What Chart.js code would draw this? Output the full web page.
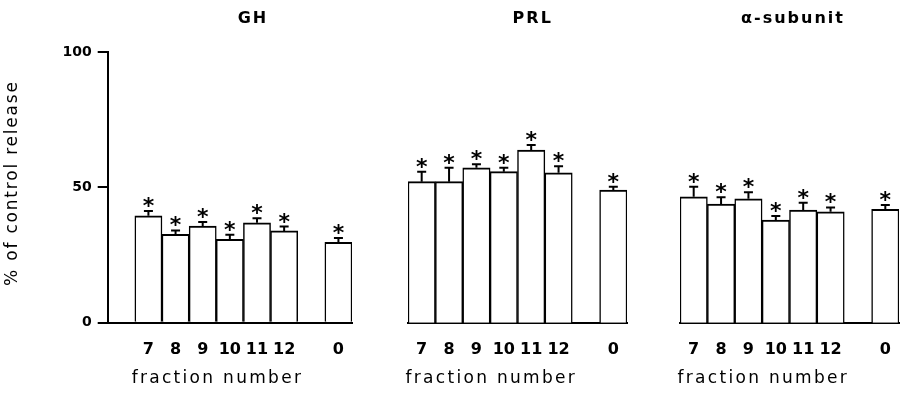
<!DOCTYPE html>
<html><head><meta charset="utf-8">
<script src="https://cdn.jsdelivr.net/npm/chart.js@4/dist/chart.umd.min.js"></script>
<style>
html,body{margin:0;padding:0;background:#fff;width:903px;height:395px;overflow:hidden;}
.p{position:absolute;top:0;height:395px;}
</style></head><body>
<div class="p" style="left:0;width:360px"><canvas id="c1"></canvas></div>
<div class="p" style="left:395px;width:240px"><canvas id="c2"></canvas></div>
<div class="p" style="left:665px;width:238px"><canvas id="c3"></canvas></div>
<script>
// ---- data ----
const ghCategories = ['', '7', '8', '9', '10', '11', '12', '', '0'];
const panelCategories = ['7', '8', '9', '10', '11', '12', '', '0'];
const ghValues      = [null, 39.5, 32.6, 35.7, 30.8, 36.9, 33.9, null, 29.7];
const ghErrorTop    = [null, 41.3, 34.1, 37.2, 32.5, 38.6, 35.5, null, 31.3];
const prlValues     = [52.1, 52.1, 57.2, 55.8, 63.8, 55.4, null, 49.0];
const prlErrorTop   = [55.8, 57.2, 58.5, 57.2, 65.6, 57.8, null, 50.2];
const alphaValues   = [46.5, 43.8, 45.8, 37.9, 41.6, 41.0, null, 41.9];
const alphaErrorTop = [50.2, 46.3, 48.2, 39.4, 44.3, 42.6, null, 43.5];
const yTicks = [0, 50, 100];
const panelTitles = ['GH', 'PRL', 'α-subunit'];
const xTitle = 'fraction number';
const yTitle = '% of control release';

const FAM = '"DejaVu Sans", Verdana, sans-serif';
Chart.defaults.font.family = FAM;
Chart.defaults.color = '#000';

const errPlugin = {
  id: 'errs',
  afterDatasetsDraw(chart, args, o) {
    const ctx = chart.ctx, y = chart.scales.y;
    const meta = chart.getDatasetMeta(0);
    const vals = chart.data.datasets[0].data;
    ctx.save();
    ctx.strokeStyle = '#000'; ctx.lineWidth = 2; ctx.fillStyle = '#000';
    ctx.font = 'bold 22px ' + FAM;
    ctx.textAlign = 'center'; ctx.textBaseline = 'alphabetic';
    const m = ctx.measureText('*');
    const glyphMid = (m.actualBoundingBoxDescent - m.actualBoundingBoxAscent) / 2;
    meta.data.forEach((bar, i) => {
      const v = vals[i], t = o.tops[i];
      if (v == null || t == null) return;
      const x = bar.x, yb = y.getPixelForValue(v), yt = y.getPixelForValue(t);
      ctx.beginPath();
      ctx.moveTo(x, yb); ctx.lineTo(x, yt);
      ctx.moveTo(x - 4.5, yt); ctx.lineTo(x + 4.5, yt);
      ctx.stroke();
      ctx.fillText('*', x, yt - 9 - glyphMid);
    });
    ctx.restore();
  }
};

const textPlugin = {
  id: 'texts',
  afterDraw(chart, args, o) {
    const ctx = chart.ctx, area = chart.chartArea, x = chart.scales.x;
    ctx.save();
    ctx.fillStyle = '#000';
    ctx.textAlign = 'center'; ctx.textBaseline = 'middle';
    ctx.font = 'bold 16px ' + FAM; ctx.letterSpacing = '2px';
    ctx.fillText(o.title, area.left + o.titleOffset + 1, 18.5);
    ctx.font = '17px ' + FAM; ctx.letterSpacing = '2.3px';
    const mid = (x.getPixelForValue(o.groupStart) + x.getPixelForValue(o.groupEnd)) / 2;
    ctx.fillText(xTitle, mid + 1.15, 379);
    if (o.yTitle) {
      ctx.font = '17px ' + FAM; ctx.letterSpacing = '1.8px';
      ctx.translate(12.5, 184);
      ctx.rotate(-Math.PI / 2);
      ctx.fillText(o.yTitle, 0.9, 0);
    }
    ctx.restore();
  }
};

function makeChart(id, cats, vals, tops, title, titleOffset, showY, pad) {
  const i7 = cats.indexOf('7'), i12 = cats.indexOf('12');
  const yScale = {
    display: showY, min: 0, max: 100,
    afterBuildTicks: s => { s.ticks = yTicks.map(v => ({ value: v })); },
    border: { display: true, color: '#000', width: 2 },
    grid: { display: true, drawOnChartArea: false, drawTicks: true, tickLength: 10, color: '#000', lineWidth: 2 },
    ticks: { color: '#000', font: { size: 14, weight: 'bold' }, padding: 6 }
  };
  if (showY) yScale.afterFit = s => { s.width = 107.7; };
  return new Chart(document.getElementById(id), {
    type: 'bar',
    data: { labels: cats, datasets: [{
      data: vals, backgroundColor: '#fff', borderColor: '#000',
      borderWidth: { top: 2, left: 1.5, right: 1.5, bottom: 0 }, borderSkipped: false,
      categoryPercentage: 1, barPercentage: 1
    }]},
    plugins: [errPlugin, textPlugin],
    options: {
      responsive: true, maintainAspectRatio: false, animation: false,
      layout: { padding: { top: 52, bottom: 0, left: pad[0], right: pad[1] } },
      plugins: {
        legend: { display: false }, tooltip: { enabled: false }, title: { display: false },
        errs: { tops: tops },
        texts: { title: title, titleOffset: titleOffset, groupStart: i7, groupEnd: i12, yTitle: showY ? yTitle : null }
      },
      scales: {
        x: {
          type: 'category', offset: true,
          grid: { display: false, drawTicks: true, tickLength: 18 },
          border: { display: true, color: '#000', width: 2 },
          ticks: { color: '#000', font: { size: 16, weight: 'bold' }, padding: 0, autoSkip: false, maxRotation: 0 },
          afterFit: s => { s.height = 72.3; }
        },
        y: yScale
      }
    }
  });
}

makeChart('c1', ghCategories, ghValues, ghErrorTop, panelTitles[0], 144.3, true, [0, 8]);
makeChart('c2', panelCategories, prlValues, prlErrorTop, panelTitles[1], 123.7, false, [13, 8]);
makeChart('c3', panelCategories, alphaValues, alphaErrorTop, panelTitles[2], 112, false, [15, 4]);
</script>
</body></html>
